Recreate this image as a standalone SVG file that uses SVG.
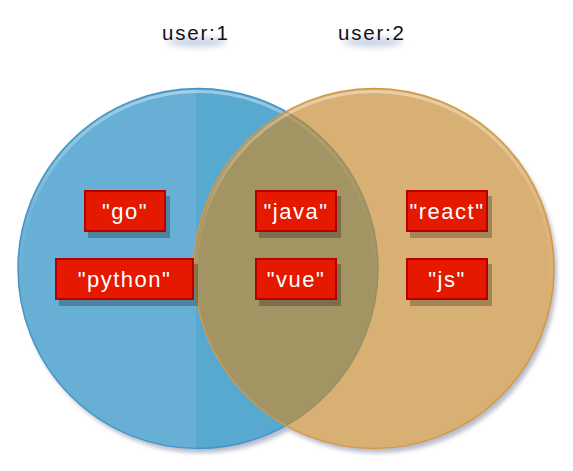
<svg xmlns="http://www.w3.org/2000/svg" width="573" height="471" viewBox="0 0 573 471">
<defs>
<style>
.title{font-family:"Liberation Sans",Arial,sans-serif;font-size:20.5px;letter-spacing:1.8px;fill:#111}
.tshadow{fill:#8f9cc4;opacity:0.45}
.box{fill:#e41900;stroke:#b60000;stroke-width:2}
.bshadow{fill:#000;opacity:0.25}
.lbl{font-family:"Liberation Sans",Arial,sans-serif;font-size:22px;letter-spacing:1.5px;fill:#fff;text-anchor:middle}
</style>
<filter id="blur" x="-30%" y="-100%" width="160%" height="300%"><feGaussianBlur stdDeviation="3"/></filter>
<filter id="cblur" x="-10%" y="-10%" width="120%" height="120%"><feGaussianBlur stdDeviation="2"/></filter>
<clipPath id="blueRight"><rect x="196" y="0" width="200" height="471"/></clipPath>
<linearGradient id="rim" x1="0" y1="0" x2="0" y2="1">
<stop offset="0" stop-color="#fff" stop-opacity="0.4"/>
<stop offset="0.35" stop-color="#fff" stop-opacity="0.08"/>
<stop offset="0.6" stop-color="#fff" stop-opacity="0"/>
</linearGradient>
</defs>
<g id="titles">
<ellipse class="tshadow" cx="197" cy="42" rx="30" ry="5" filter="url(#blur)"/>
<text class="title" x="162" y="40">user:1</text>
<ellipse class="tshadow" cx="373" cy="42" rx="30" ry="5" filter="url(#blur)"/>
<text class="title" x="338" y="40">user:2</text>
</g>
<g id="shadows">
<circle cx="201" cy="273" r="180" fill="#b7bbcc" filter="url(#cblur)"/>
<circle cx="377" cy="273" r="180" fill="#b7bbcc" filter="url(#cblur)"/>
<circle cx="198" cy="268.5" r="180" fill="#fff"/>
<circle cx="374" cy="268.5" r="180" fill="#fff"/>
</g>
<g id="set-user1">
<circle cx="198" cy="268.5" r="180" fill="#67afd4"/>
<circle cx="198" cy="268.5" r="180" fill="#57a9d0" clip-path="url(#blueRight)"/>
<circle cx="198" cy="268.5" r="177" fill="none" stroke="url(#rim)" stroke-width="3"/>
<circle cx="198" cy="268.5" r="180" fill="none" stroke="#4596c8" stroke-width="1.5"/>
</g>
<g id="set-user2">
<circle cx="374" cy="268.5" r="180" fill="#c78a30" fill-opacity="0.68"/>
<circle cx="374" cy="268.5" r="177" fill="none" stroke="url(#rim)" stroke-width="3"/>
<circle cx="374" cy="268.5" r="180" fill="none" stroke="#d39944" stroke-width="1.5"/>
</g>
<g id="node-go">
<rect class="bshadow" x="88" y="196" width="82" height="42"/>
<rect class="box" x="85" y="191" width="80" height="40"/>
<text class="lbl" x="125" y="219">"go"</text>
</g>
<g id="node-python">
<rect class="bshadow" x="59" y="264" width="139" height="42"/>
<rect class="box" x="56" y="259" width="137" height="40"/>
<text class="lbl" x="124.5" y="287">"python"</text>
</g>
<g id="node-java">
<rect class="bshadow" x="259" y="196" width="82" height="42"/>
<rect class="box" x="256" y="191" width="80" height="40"/>
<text class="lbl" x="296" y="219">"java"</text>
</g>
<g id="node-vue">
<rect class="bshadow" x="259" y="264" width="82" height="42"/>
<rect class="box" x="256" y="259" width="80" height="40"/>
<text class="lbl" x="296" y="287">"vue"</text>
</g>
<g id="node-react">
<rect class="bshadow" x="410" y="196" width="82" height="42"/>
<rect class="box" x="407" y="191" width="80" height="40"/>
<text class="lbl" x="447" y="219">"react"</text>
</g>
<g id="node-js">
<rect class="bshadow" x="410" y="264" width="82" height="42"/>
<rect class="box" x="407" y="259" width="80" height="40"/>
<text class="lbl" x="447" y="287">"js"</text>
</g>
<g id="connectors"></g>
</svg>
